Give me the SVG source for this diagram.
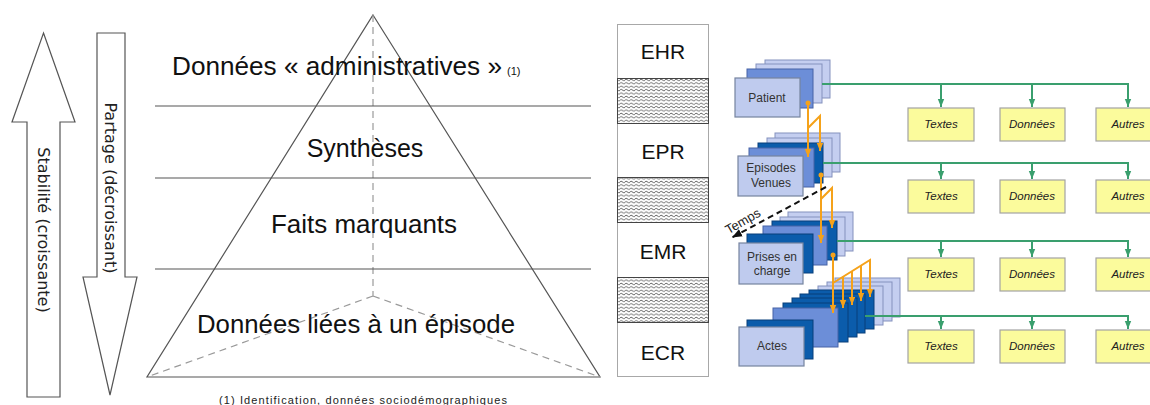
<svg xmlns="http://www.w3.org/2000/svg" width="1150" height="405" viewBox="0 0 1150 405">
<style>
.ln{stroke:#555;stroke-width:1.2;fill:none}
.dash{stroke:#9a9a9a;stroke-width:1.2;fill:none;stroke-dasharray:7 5}
.big{font-family:"Liberation Sans",Arial,sans-serif;font-size:25px;fill:#111}
.col{font-family:"Liberation Sans",Arial,sans-serif;font-size:21px;fill:#111;text-anchor:middle}
.vt{font-family:"DejaVu Sans",sans-serif;font-size:16px;fill:#222;text-anchor:middle}
.lt{fill:#c4cef0;stroke:#8491bd;stroke-width:1}
.md{fill:#6c8ed8;stroke:#4763a6;stroke-width:1}
.dk{fill:#0b5cab;stroke:#083f7a;stroke-width:1}
.fr{fill:#bfcbee;stroke:#76849f;stroke-width:1.2}
.st{font-family:"Liberation Sans",Arial,sans-serif;font-size:12px;fill:#333;text-anchor:middle}
.yb{fill:#fbfb9c;stroke:#a3a3a3;stroke-width:1.2}
.yt{font-family:"Liberation Sans",Arial,sans-serif;font-size:11.5px;font-style:italic;fill:#222;text-anchor:middle}
.gr{stroke:#3a9f6e;stroke-width:2;fill:none}
.or{stroke:#f5a21a;stroke-width:2;fill:none}
</style>
<defs>
<pattern id="wave" width="5" height="3.4" patternUnits="userSpaceOnUse">
<rect width="5" height="3.4" fill="#fff"/>
<path d="M0 1.7 Q1.25 0.3 2.5 1.7 T5 1.7" stroke="#666" stroke-width="0.9" fill="none"/>
</pattern>
<marker id="ag" viewBox="0 0 10 10" refX="10" refY="5" markerWidth="8" markerHeight="8" markerUnits="userSpaceOnUse" orient="auto"><path d="M0,1 L10,5 L0,9 z" fill="#3a9f6e"/></marker>
<marker id="ao" viewBox="0 0 10 10" refX="10" refY="5" markerWidth="8" markerHeight="8" markerUnits="userSpaceOnUse" orient="auto"><path d="M0,1 L10,5 L0,9 z" fill="#f5a21a"/></marker>
<marker id="ak" viewBox="0 0 10 10" refX="10" refY="5" markerWidth="10" markerHeight="10" markerUnits="userSpaceOnUse" orient="auto"><path d="M0,1 L10,5 L0,9 z" fill="#111"/></marker>
</defs>
<rect width="1150" height="405" fill="#fff"/>

<g id="arrow-stabilite">
<polygon class="ln" points="43.5,33 75,122 60,122 60,397 27,397 27,122 12,122"/>
<text class="vt" x="44" y="236" transform="rotate(90 44 230)">Stabilité (croissante)</text>
</g>
<g id="arrow-partage">
<polygon class="ln" points="97,33 125,33 125,277 137,277 110,395 83,277 97,277"/>
<text class="vt" x="111" y="194" font-size="15" transform="rotate(90 111 188)">Partage (décroissant)</text>
</g>

<g id="pyramid">
<polygon class="ln" points="373,15 600,377 147,377"/>
<path class="dash" d="M373 15 V296 M373 296 L147 377 M373 296 L600 377"/>
<path class="ln" d="M155 106 H591 M155 178 H591 M155 269 H591"/>
</g>
<g id="layer-admin"><text class="big" x="172" y="75" textLength="330" lengthAdjust="spacingAndGlyphs">Données « administratives »</text><text x="507" y="75" font-family="Liberation Sans,Arial,sans-serif" font-size="11" fill="#111">(1)</text></g>
<g id="layer-syntheses"><text class="big" x="365" y="157" text-anchor="middle">Synthèses</text></g>
<g id="layer-faits"><text class="big" x="271" y="233" textLength="186" lengthAdjust="spacingAndGlyphs">Faits marquants</text></g>
<g id="layer-episode"><text class="big" x="197" y="333" textLength="318" lengthAdjust="spacingAndGlyphs">Données liées à un épisode</text></g>
<g id="footnote"><text x="363" y="404" text-anchor="middle" font-family="Liberation Sans,Arial,sans-serif" font-size="11" fill="#222" textLength="288">(1) Identification, données sociodémographiques</text></g>

<g id="column">
<rect x="617.5" y="24.5" width="91" height="352" fill="#fff" stroke="#a8a8a8" stroke-width="1"/>
<rect x="617.5" y="78.5" width="91" height="45" fill="url(#wave)" stroke="#444" stroke-width="1"/>
<rect x="617.5" y="177.5" width="91" height="45" fill="url(#wave)" stroke="#444" stroke-width="1"/>
<rect x="617.5" y="277.5" width="91" height="45" fill="url(#wave)" stroke="#444" stroke-width="1"/>
</g>
<g id="ehr"><text class="col" x="663" y="59">EHR</text></g>
<g id="epr"><text class="col" x="663" y="159">EPR</text></g>
<g id="emr"><text class="col" x="663" y="259">EMR</text></g>
<g id="ecr"><text class="col" x="663" y="360">ECR</text></g>

<g id="stack-patient">
<rect class="lt" x="765" y="60" width="65" height="38"/>
<rect class="lt" x="756" y="64" width="66" height="39"/>
<rect class="md" x="747" y="69" width="66" height="39"/>
<rect class="fr" x="735" y="78" width="65" height="39"/>
<text class="st" x="767" y="102">Patient</text>
</g>
<g id="stack-episodes">
<rect class="lt" x="775" y="133" width="65" height="39"/>
<rect class="lt" x="767" y="138" width="65" height="39"/>
<rect class="dk" x="758" y="143" width="65" height="40"/>
<rect class="md" x="749" y="148" width="65" height="39"/>
<rect class="fr" x="738" y="156" width="65" height="40"/>
<text class="st" x="771" y="172">Episodes</text>
<text class="st" x="771" y="187">Venues</text>
</g>
<g id="stack-prises">
<rect class="lt" x="788" y="212" width="65" height="39"/>
<rect class="lt" x="780" y="217" width="65" height="39"/>
<rect class="dk" x="772" y="221" width="65" height="39"/>
<rect class="md" x="763" y="226" width="64" height="39"/>
<rect class="dk" x="747" y="234" width="66" height="39"/>
<rect class="fr" x="739" y="243" width="64" height="41"/>
<text class="st" x="772" y="261">Prises en</text>
<text class="st" x="772" y="275">charge</text>
</g>
<g id="stack-actes">
<rect class="lt" x="835" y="278" width="65" height="39"/>
<rect class="lt" x="827" y="282" width="65" height="39"/>
<rect class="lt" x="818" y="286" width="65" height="39"/>
<rect class="dk" x="809" y="290" width="65" height="39"/>
<rect class="dk" x="800" y="294" width="65" height="39"/>
<rect class="dk" x="792" y="298" width="65" height="39"/>
<rect class="dk" x="783" y="303" width="65" height="39"/>
<rect class="md" x="773" y="308" width="65" height="39"/>
<rect class="dk" x="747" y="320" width="66" height="39"/>
<rect class="fr" x="739" y="327" width="65" height="39"/>
<text class="st" x="772" y="350">Actes</text>
</g>

<g id="row1-textes"><rect class="yb" x="908" y="108" width="66" height="33"/><text class="yt" x="941" y="128">Textes</text></g>
<g id="row1-donnees"><rect class="yb" x="1000" y="108" width="65" height="33"/><text class="yt" x="1032" y="128">Données</text></g>
<g id="row1-autres"><rect class="yb" x="1096" y="108" width="66" height="33"/><text class="yt" x="1128" y="128">Autres</text></g>
<g id="row2-textes"><rect class="yb" x="908" y="180" width="66" height="33"/><text class="yt" x="941" y="200">Textes</text></g>
<g id="row2-donnees"><rect class="yb" x="1000" y="180" width="65" height="33"/><text class="yt" x="1032" y="200">Données</text></g>
<g id="row2-autres"><rect class="yb" x="1096" y="180" width="66" height="33"/><text class="yt" x="1128" y="200">Autres</text></g>
<g id="row3-textes"><rect class="yb" x="908" y="258" width="66" height="33"/><text class="yt" x="941" y="278">Textes</text></g>
<g id="row3-donnees"><rect class="yb" x="1000" y="258" width="65" height="33"/><text class="yt" x="1032" y="278">Données</text></g>
<g id="row3-autres"><rect class="yb" x="1096" y="258" width="66" height="33"/><text class="yt" x="1128" y="278">Autres</text></g>
<g id="row4-textes"><rect class="yb" x="908" y="330" width="66" height="33"/><text class="yt" x="941" y="350">Textes</text></g>
<g id="row4-donnees"><rect class="yb" x="1000" y="330" width="65" height="33"/><text class="yt" x="1032" y="350">Données</text></g>
<g id="row4-autres"><rect class="yb" x="1096" y="330" width="66" height="33"/><text class="yt" x="1128" y="350">Autres</text></g>

<g id="connectors">
<path class="gr" d="M822 84 H1128 V107" marker-end="url(#ag)"/>
<path class="gr" d="M941 84 V107" marker-end="url(#ag)"/>
<path class="gr" d="M1032 84 V107" marker-end="url(#ag)"/>
<path class="gr" d="M823 163 H1128 V179" marker-end="url(#ag)"/>
<path class="gr" d="M941 163 V179" marker-end="url(#ag)"/>
<path class="gr" d="M1032 163 V179" marker-end="url(#ag)"/>
<path class="gr" d="M837 241 H1128 V257" marker-end="url(#ag)"/>
<path class="gr" d="M941 241 V257" marker-end="url(#ag)"/>
<path class="gr" d="M1032 241 V257" marker-end="url(#ag)"/>
<path class="gr" d="M865 316 H1128 V329" marker-end="url(#ag)"/>
<path class="gr" d="M941 316 V329" marker-end="url(#ag)"/>
<path class="gr" d="M1032 316 V329" marker-end="url(#ag)"/>

<circle cx="808" cy="103" r="2.5" fill="#f5a21a"/>
<path class="or" d="M808 103 V157" marker-end="url(#ao)"/>
<path class="or" d="M808 128 L820 116 V151" marker-end="url(#ao)"/>
<circle cx="821" cy="175" r="2.5" fill="#f5a21a"/>
<path class="or" d="M821 175 V243" marker-end="url(#ao)"/>
<path class="or" d="M821 199 L832 188 V228" marker-end="url(#ao)"/>
<circle cx="833" cy="255" r="2.5" fill="#f5a21a"/>
<path class="or" d="M833 255 V313" marker-end="url(#ao)"/>
<path class="or" d="M833 283 L870 260 V297" marker-end="url(#ao)"/>
<path class="or" d="M843 276.5 V308" marker-end="url(#ao)"/>
<path class="or" d="M852 271 V305" marker-end="url(#ao)"/>
<path class="or" d="M861 265.5 V301" marker-end="url(#ao)"/>

<path d="M826 187 L732 237.5" stroke="#111" stroke-width="2" stroke-dasharray="6 4" fill="none" marker-end="url(#ak)"/>
<text x="745" y="225" font-family="Liberation Sans,Arial,sans-serif" font-size="13" fill="#222" text-anchor="middle" transform="rotate(-30 745 225)">Temps</text>
</g>
</svg>
